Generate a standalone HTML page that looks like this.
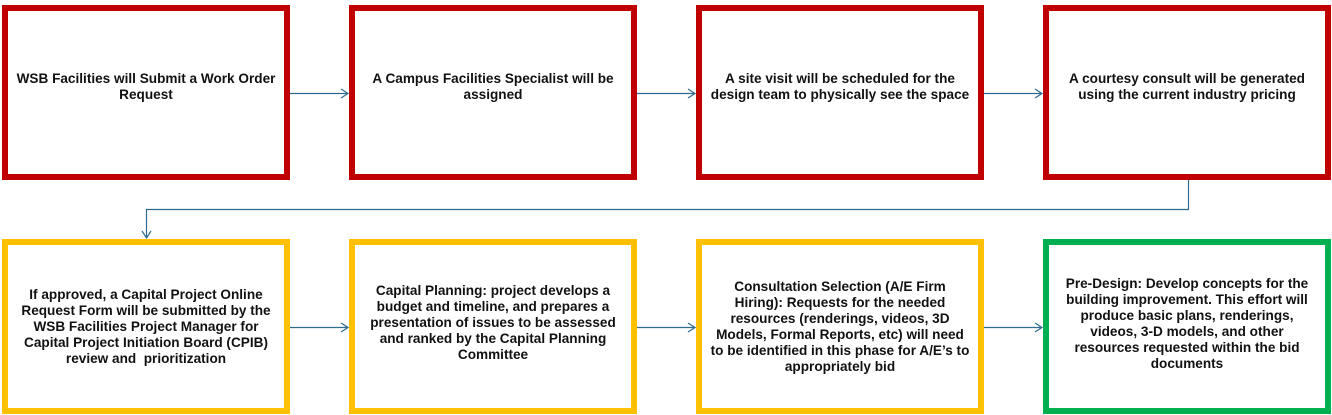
<!DOCTYPE html>
<html><head><style>
body{margin:0;width:1332px;height:415px;background:#fff;position:relative;overflow:hidden;font-family:"Liberation Sans",sans-serif;}
.b{position:absolute;box-sizing:border-box;border:6px solid #c00000;width:288px;height:175px;display:flex;align-items:center;justify-content:center;text-align:center;font-weight:bold;font-size:13.6px;line-height:16px;color:#111;padding:0 2px;white-space:nowrap;}
.r1{top:5px}.r2{top:239px;border-color:#ffc000}
.g{border-color:#00b050}
svg{position:absolute;left:0;top:0}
</style></head><body>
<div class="b r1" style="left:2px;padding-bottom:12px">WSB Facilities will Submit a Work Order<br>Request</div>
<div class="b r1" style="left:349px;padding-bottom:12px">A Campus Facilities Specialist will be<br>assigned</div>
<div class="b r1" style="left:696px;padding-bottom:12px">A site visit will be scheduled for the<br>design team to physically see the space</div>
<div class="b r1" style="left:1043px;padding-bottom:12px">A courtesy consult will be generated<br>using the current industry pricing</div>
<div class="b r2" style="left:2px">If approved, a Capital Project Online<br>Request Form will be submitted by the<br>WSB Facilities Project Manager for<br>Capital Project Initiation Board (CPIB)<br>review and &nbsp;prioritization</div>
<div class="b r2" style="left:349px;padding-bottom:8px">Capital Planning: project develops a<br>budget and timeline, and prepares a<br>presentation of issues to be assessed<br>and ranked by the Capital Planning<br>Committee</div>
<div class="b r2" style="left:696px">Consultation Selection (A/E Firm<br>Hiring): Requests for the needed<br>resources (renderings, videos, 3D<br>Models, Formal Reports, etc) will need<br>to be identified in this phase for A/E’s to<br>appropriately bid</div>
<div class="b r2 g" style="left:1043px;padding-bottom:6px">Pre-Design: Develop concepts for the<br>building improvement. This effort will<br>produce basic plans, renderings,<br>videos, 3-D models, and other<br>resources requested within the bid<br>documents</div>
<svg width="1332" height="415" fill="none" stroke="#2e6b8f" stroke-width="1.2">
<path d="M290 93.5H348M341 89l7 4.5-7 4.5"/>
<path d="M637 93.5H695M688 89l7 4.5-7 4.5"/>
<path d="M984 93.5H1042M1035 89l7 4.5-7 4.5"/>
<path d="M1188.5 180V209.5H146.5V238M142 231l4.5 7 4.5-7"/>
<path d="M290 327.5H348M341 323l7 4.5-7 4.5"/>
<path d="M637 327.5H695M688 323l7 4.5-7 4.5"/>
<path d="M984 327.5H1042M1035 323l7 4.5-7 4.5"/>
</svg>
</body></html>
